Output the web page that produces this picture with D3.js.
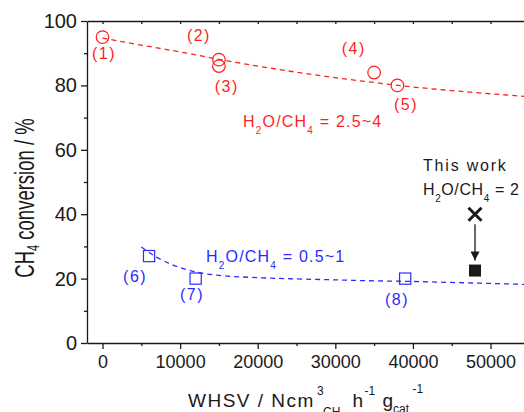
<!DOCTYPE html>
<html>
<head>
<meta charset="utf-8">
<script src="https://cdn.jsdelivr.net/npm/d3@7"></script>
<style>
  body { margin: 0; background: #fff; }
  svg { display: block; }
</style>
</head>
<body>
<script>
// values
const redLabels = ["(1)", "(2)", "(3)", "(4)", "(5)"];
const redX = [0, 15000, 15000, 35000, 38000];
const redY = [95, 88, 86, 84, 80];
const blueLabels = ["(6)", "(7)", "(8)"];
const blueX = [6000, 12000, 39000];
const blueY = [27, 20, 20];
// dashed trend lines
const redFit = [[0, 94.7], [5000, 92.5], [10000, 90.4], [15000, 88.1], [20000, 86.0], [25000, 84.1],
                [30000, 82.4], [35000, 80.9], [40000, 79.5], [45000, 78.4], [50000, 77.4], [56000, 76.3]];
const blueFit = [[5000, 29.8], [7000, 26.6], [9000, 24.3], [11000, 22.7], [13000, 21.6], [15000, 21.0],
                 [20000, 20.3], [25000, 19.9], [30000, 19.6], [35000, 19.3], [40000, 19.1], [45000, 18.8],
                 [50000, 18.5], [56000, 18.1]];
const thisWorkX = 48000;
const thisWorkBefore = 40;
const thisWorkAfter = 22.5;
const xTicks = [0, 10000, 20000, 30000, 40000, 50000];
const xMinor = [5000, 15000, 25000, 35000, 45000, 55000];
const yTicks = [0, 20, 40, 60, 80, 100];
const yMinor = [10, 30, 50, 70, 90];

// layout
const width = 524, height = 412;
const mLeft = 87, mTop = 21, mBottom = 343;
const red = "#ff1f1f", blue = "#2b2bff", ink = "#1a1a1a";
const redOff = [[1.5, 21.4], [-20, -18.9], [7.8, 25.6], [-20.3, -18.2], [8.6, 24.6]];
const blueOff = [[-14, 25.6], [-3.6, 21.4], [-8.2, 26.4]];

const svg = d3.select("body").append("svg")
    .attr("width", width)
    .attr("height", height)
    .style("font-family", "Arial, 'Liberation Sans', Helvetica, sans-serif");

const x = d3.scaleLinear([-2000, 55000], [mLeft, mLeft + 57000 * 0.00776]);
const y = d3.scaleLinear([0, 100], [mBottom, mTop]);

// arrow head
svg.append("defs").append("marker")
    .attr("id", "head")
    .attr("viewBox", [0, 0, 10, 10])
    .attr("refX", 10).attr("refY", 5)
    .attr("markerUnits", "userSpaceOnUse")
    .attr("markerWidth", 10).attr("markerHeight", 9)
    .attr("orient", "auto")
    .append("path").attr("d", "M0,0L10,5L0,10Z").attr("fill", ink);

// axes
svg.append("g").attr("transform", `translate(0,${mBottom})`)
    .call(d3.axisBottom(x).tickValues(xTicks).tickFormat(d3.format("d")).tickSize(6).tickPadding(6).tickSizeOuter(0))
    .call(g => g.selectAll("text").attr("font-size", 18).attr("fill", ink));
svg.append("g").attr("transform", `translate(0,${mBottom})`)
    .call(d3.axisBottom(x).tickValues(xMinor).tickSize(3).tickFormat("").tickSizeOuter(0))
    .call(g => g.select(".domain").remove());
svg.append("g").attr("transform", `translate(0,${mTop})`)
    .call(d3.axisBottom(x).tickValues(xTicks.concat(xMinor)).tickSize(3).tickFormat("").tickSizeOuter(0));

svg.append("g").attr("transform", `translate(${mLeft},0)`)
    .call(d3.axisLeft(y).tickValues(yTicks).tickSize(6).tickPadding(4).tickSizeOuter(0))
    .call(g => g.selectAll("text").attr("font-size", 20).attr("fill", ink));
svg.append("g").attr("transform", `translate(${mLeft},0)`)
    .call(d3.axisLeft(y).tickValues(yMinor).tickSize(3).tickFormat("").tickSizeOuter(0))
    .call(g => g.select(".domain").remove());

svg.selectAll("g").attr("font-family", null);
svg.selectAll(".domain, .tick line").attr("stroke", ink).attr("stroke-width", 1.3);

// dashed trends
const line = d3.line().x(d => x(d[0])).y(d => y(d[1])).curve(d3.curveMonotoneX);
svg.append("path").attr("d", line(redFit))
    .attr("fill", "none").attr("stroke", red).attr("stroke-width", 1.3).attr("stroke-dasharray", "5,4");
svg.append("path").attr("d", line(blueFit))
    .attr("fill", "none").attr("stroke", blue).attr("stroke-width", 1.3).attr("stroke-dasharray", "5,4");

// literature points
const redPts = redX.map((v, i) => ({x: v, y: redY[i], label: redLabels[i], off: redOff[i]}));
const bluePts = blueX.map((v, i) => ({x: v, y: blueY[i], label: blueLabels[i], off: blueOff[i]}));

svg.append("g").selectAll("circle").data(redPts).join("circle")
    .attr("cx", d => x(d.x)).attr("cy", d => y(d.y)).attr("r", 6.3)
    .attr("fill", "none").attr("stroke", red).attr("stroke-width", 1.2);
svg.append("g").selectAll("rect").data(bluePts).join("rect")
    .attr("x", d => x(d.x) - 5.6).attr("y", d => y(d.y) - 5.6)
    .attr("width", 11.2).attr("height", 11.2)
    .attr("fill", "none").attr("stroke", blue).attr("stroke-width", 1.2);

const labelText = (sel, color) => sel
    .attr("x", d => x(d.x) + d.off[0]).attr("y", d => y(d.y) + d.off[1])
    .attr("text-anchor", "middle").attr("font-size", 16).attr("letter-spacing", 1.5)
    .attr("fill", color).text(d => d.label);
svg.append("g").selectAll("text").data(redPts).join("text").call(labelText, red);
svg.append("g").selectAll("text").data(bluePts).join("text").call(labelText, blue);

// ratio annotations with subscripts
function ratio(px, py, color, tail, ls) {
  const t = svg.append("text").attr("x", px).attr("y", py)
      .attr("font-size", 16).attr("letter-spacing", ls).attr("fill", color);
  t.append("tspan").text("H");
  t.append("tspan").attr("font-size", 10).attr("dy", 7).text("2");
  t.append("tspan").attr("dy", -7).text("O/CH");
  t.append("tspan").attr("font-size", 10).attr("dy", 7).text("4");
  t.append("tspan").attr("dy", -7).text(tail);
}
ratio(243, 126.7, red, " = 2.5~4", 1.2);
ratio(206, 262, blue, " = 0.5~1", 1.2);
ratio(423, 195, ink, " = 2", 0.6);
svg.append("text").attr("x", 423).attr("y", 170.7)
    .attr("font-size", 16).attr("letter-spacing", 1.8).attr("fill", ink).text("This work");

// this work: before (cross) -> after (filled square)
const cx = x(thisWorkX), cyA = y(thisWorkBefore), cyB = y(thisWorkAfter);
svg.append("path")
    .attr("d", `M${cx - 6.5},${cyA - 6.5}L${cx + 6.5},${cyA + 6.5}M${cx + 6.5},${cyA - 6.5}L${cx - 6.5},${cyA + 6.5}`)
    .attr("stroke", ink).attr("stroke-width", 3);
svg.append("line")
    .attr("x1", cx).attr("x2", cx).attr("y1", cyA + 10).attr("y2", cyB - 10)
    .attr("stroke", ink).attr("stroke-width", 1.3).attr("marker-end", "url(#head)");
svg.append("rect")
    .attr("x", cx - 6).attr("y", cyB - 6).attr("width", 12).attr("height", 12).attr("fill", ink);

// axis titles
const yt = svg.append("text")
    .attr("transform", "translate(33.5,198) rotate(-90) scale(1,1.5)")
    .attr("text-anchor", "middle").attr("font-size", 18.5).attr("fill", ink);
yt.append("tspan").text("CH");
yt.append("tspan").attr("font-size", 11).attr("dy", 3.5).text("4");
yt.append("tspan").attr("dy", -3.5).text(" conversion / %");

const xt = svg.append("text").attr("font-size", 19).attr("fill", ink);
[["WHSV / Ncm", 188, 407, 19, 1.5],
 ["3", 317, 395, 12, 0],
 ["CH", 323, 416, 12, 0],
 ["h", 352.5, 407, 19, 0],
 ["-1", 364.5, 395, 12, 0],
 ["g", 382.5, 407, 19, 0],
 ["cat", 393, 413, 12, 0],
 ["-1", 412.5, 393, 12, 0]].forEach(p => {
  xt.append("tspan").attr("x", p[1]).attr("y", p[2]).attr("font-size", p[3])
    .attr("letter-spacing", p[4]).text(p[0]);
});
</script>
</body>
</html>
